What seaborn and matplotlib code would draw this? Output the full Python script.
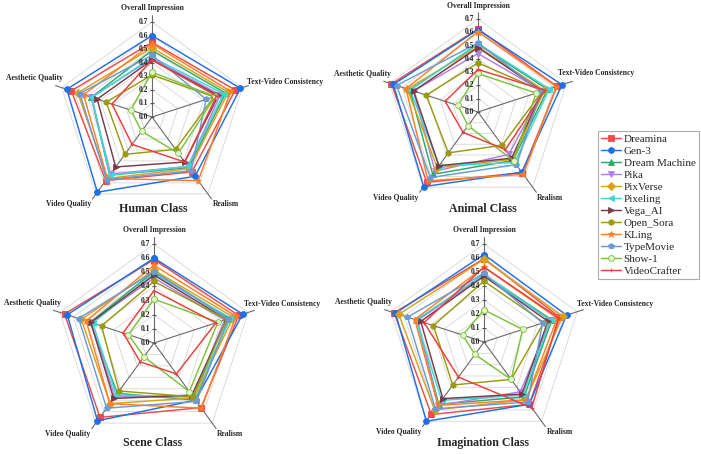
import numpy as np
import matplotlib
matplotlib.use("Agg")
import matplotlib.pyplot as plt
import seaborn as sns

# axis order, clockwise from the top
dims = ['Overall Impression', 'Text-Video Consistency', 'Realism',
        'Video Quality', 'Aesthetic Quality']

models = ['Dreamina', 'Gen-3', 'Dream Machine', 'Pika', 'PixVerse', 'Pixeling',
          'Vega_AI', 'Open_Sora', 'KLing', 'TypeMovie', 'Show-1', 'VideoCrafter']

colors = ['#EE4B4B', '#1F6FE5', '#2EA86A', '#B07FE8', '#D9A11A', '#3CD8D8',
          '#7B3B46', '#9A9A10', '#FF7F27', '#6A9BD8', '#7CC23A', '#F03C3C']
markers = ['s', 'o', '^', 'v', 'D', '<', '>', 'h', '*', 'p', 'o', '+']

# scores per model: [OI, TVC, Realism, VQ, AQ]
human_scores = [
    [0.55, 0.645, 0.50, 0.58, 0.625],
    [0.60, 0.685, 0.54, 0.685, 0.66],
    [0.49, 0.57, 0.46, 0.53, 0.47],
    [0.43, 0.53, 0.45, 0.52, 0.47],
    [0.51, 0.59, 0.47, 0.56, 0.575],
    [0.44, 0.555, 0.45, 0.53, 0.465],
    [0.42, 0.515, 0.41, 0.455, 0.425],
    [0.31, 0.48, 0.295, 0.34, 0.355],
    [0.54, 0.61, 0.58, 0.56, 0.53],
    [0.455, 0.42, 0.49, 0.57, 0.56],
    [0.33, 0.49, 0.33, 0.13, 0.165],
    [0.42, 0.50, 0.41, 0.25, 0.31],
]
animal_scores = [
    [0.625, 0.625, 0.565, 0.655, 0.685],
    [0.62, 0.665, 0.56, 0.695, 0.67],
    [0.51, 0.55, 0.45, 0.58, 0.54],
    [0.44, 0.51, 0.395, 0.55, 0.51],
    [0.49, 0.525, 0.44, 0.52, 0.56],
    [0.515, 0.565, 0.47, 0.50, 0.535],
    [0.485, 0.51, 0.43, 0.50, 0.51],
    [0.37, 0.51, 0.31, 0.38, 0.41],
    [0.605, 0.62, 0.58, 0.64, 0.57],
    [0.52, 0.50, 0.49, 0.61, 0.645],
    [0.29, 0.46, 0.455, 0.127, 0.16],
    [0.32, 0.53, 0.35, 0.19, 0.26],
]
scene_scores = [
    [0.59, 0.63, 0.565, 0.65, 0.665],
    [0.60, 0.66, 0.50, 0.68, 0.645],
    [0.505, 0.56, 0.50, 0.44, 0.475],
    [0.46, 0.525, 0.47, 0.47, 0.47],
    [0.515, 0.59, 0.48, 0.53, 0.54],
    [0.49, 0.57, 0.47, 0.455, 0.455],
    [0.48, 0.54, 0.455, 0.485, 0.47],
    [0.435, 0.54, 0.47, 0.42, 0.39],
    [0.55, 0.61, 0.57, 0.53, 0.505],
    [0.505, 0.55, 0.51, 0.57, 0.56],
    [0.31, 0.475, 0.425, 0.12, 0.19],
    [0.37, 0.46, 0.27, 0.165, 0.23],
]
imagination_scores = [
    [0.595, 0.57, 0.55, 0.64, 0.675],
    [0.625, 0.62, 0.55, 0.70, 0.665],
    [0.48, 0.51, 0.485, 0.55, 0.505],
    [0.475, 0.50, 0.44, 0.56, 0.50],
    [0.59, 0.59, 0.51, 0.60, 0.64],
    [0.48, 0.50, 0.47, 0.515, 0.51],
    [0.47, 0.48, 0.46, 0.50, 0.475],
    [0.435, 0.45, 0.33, 0.38, 0.38],
    [0.535, 0.55, 0.51, 0.56, 0.52],
    [0.49, 0.44, 0.53, 0.59, 0.575],
    [0.23, 0.29, 0.33, 0.11, 0.16],
    [0.535, 0.56, 0.58, 0.31, 0.45],
]
r_ticks = [0.0, 0.1, 0.2, 0.3, 0.4, 0.5, 0.6, 0.7]

sns.set_theme(style="white")
plt.rcParams['font.family'] = ['Liberation Serif', 'DejaVu Serif']

W, H = 701, 454
fig = plt.figure(figsize=(W / 100, H / 100), dpi=100)

theta = np.linspace(0, 2 * np.pi, len(dims) + 1)
RMAX = 0.75
PT = 0.72  # points per pixel at 100 dpi


def radar(cx, cy, r07, scores, title, tx, ty, tvc_off):
    size = 2 * r07 * RMAX / 0.7
    ax = fig.add_axes([(cx - size / 2) / W, (H - cy - size / 2) / H, size / W, size / H],
                      projection='polar')
    ax.set_theta_offset(np.pi / 2)
    ax.set_theta_direction(-1)
    ax.set_ylim(0, RMAX)
    ax.set_xticks([])
    ax.set_yticks([])
    ax.grid(False)
    ax.spines['polar'].set_visible(False)
    ax.set_facecolor('none')

    # pentagon grid and spokes
    for lv in r_ticks[1:]:
        ax.plot(theta, [lv] * len(theta), color='#d6d6d6', lw=0.6, zorder=1)
    for t in theta[:-1]:
        ax.plot([t, t], [0, RMAX], color='#6a6a6a', lw=0.8, zorder=1)
    ax.plot([0] * len(r_ticks), r_ticks, ls='', marker='_', ms=3, mew=0.7,
            color='#555555', zorder=2)
    for lv in r_ticks:
        ax.annotate(f'{lv:.1f}', xy=(0, lv), xytext=(-2.5, 0), textcoords='offset points',
                    ha='right', va='center', fontsize=5.5, fontweight='bold', zorder=6)

    for name, vals, c, m in zip(models, scores, colors, markers):
        vv = list(vals) + [vals[0]]
        kw = dict(marker=m, markersize=4.2, markeredgewidth=0.6, markeredgecolor=c)
        if name == 'Show-1':
            kw['markerfacecolor'] = '#e4f3d2'
        if name == 'KLing':
            kw['markersize'] = 5
        if name == 'VideoCrafter':
            kw['markersize'] = 3
        sns.lineplot(x=theta, y=vv, ax=ax, sort=False, color=c, linewidth=1.05,
                     label=name, zorder=3, **kw)
    ax.get_legend().remove()
    ax.set_xlabel('')
    ax.set_ylabel('')

    label_style = [
        dict(r=0.77, ha='center', va='bottom', off=(0, 0)),
        dict(r=0.75, ha='left', va='center', off=(tvc_off[0] * PT, tvc_off[1] * PT)),
        dict(r=0.76, ha='left', va='top', off=(0, 0)),
        dict(r=0.76, ha='right', va='top', off=(0, 0)),
        dict(r=0.75, ha='right', va='bottom', off=(8 * PT, 3.5 * PT)),
    ]
    for t, d, st in zip(theta[:-1], dims, label_style):
        ax.annotate(d, xy=(t, st['r']), xytext=st['off'], textcoords='offset points',
                    ha=st['ha'], va=st['va'], fontsize=5.5, fontweight='bold',
                    annotation_clip=False)
    fig.text(tx / W, 1 - ty / H, title, ha='center', va='center',
             fontsize=8.6, fontweight='bold')
    return ax


ax1 = radar(152, 117, 95, human_scores, 'Human Class', 153, 209, (-2, 3.5))
radar(478, 112, 93, animal_scores, 'Animal Class', 483, 209, (-15, 8))
radar(154, 343, 99, scene_scores, 'Scene Class', 153, 443, (-11, 6))
radar(484, 342, 98, imagination_scores, 'Imagination Class', 483, 443, (-7, 6))

handles, labels = ax1.get_legend_handles_labels()
leg = fig.legend(handles[:len(models)], labels[:len(models)], loc='upper left',
                 bbox_to_anchor=(598 / W, 1 - 131 / H), fontsize=8.0, frameon=True,
                 fancybox=False, edgecolor='#999999', handlelength=1.8,
                 handletextpad=0.2, labelspacing=0.2, borderpad=0.3,
                 borderaxespad=0)
leg.get_frame().set_linewidth(0.8)

fig.savefig('out.png', dpi=100)
